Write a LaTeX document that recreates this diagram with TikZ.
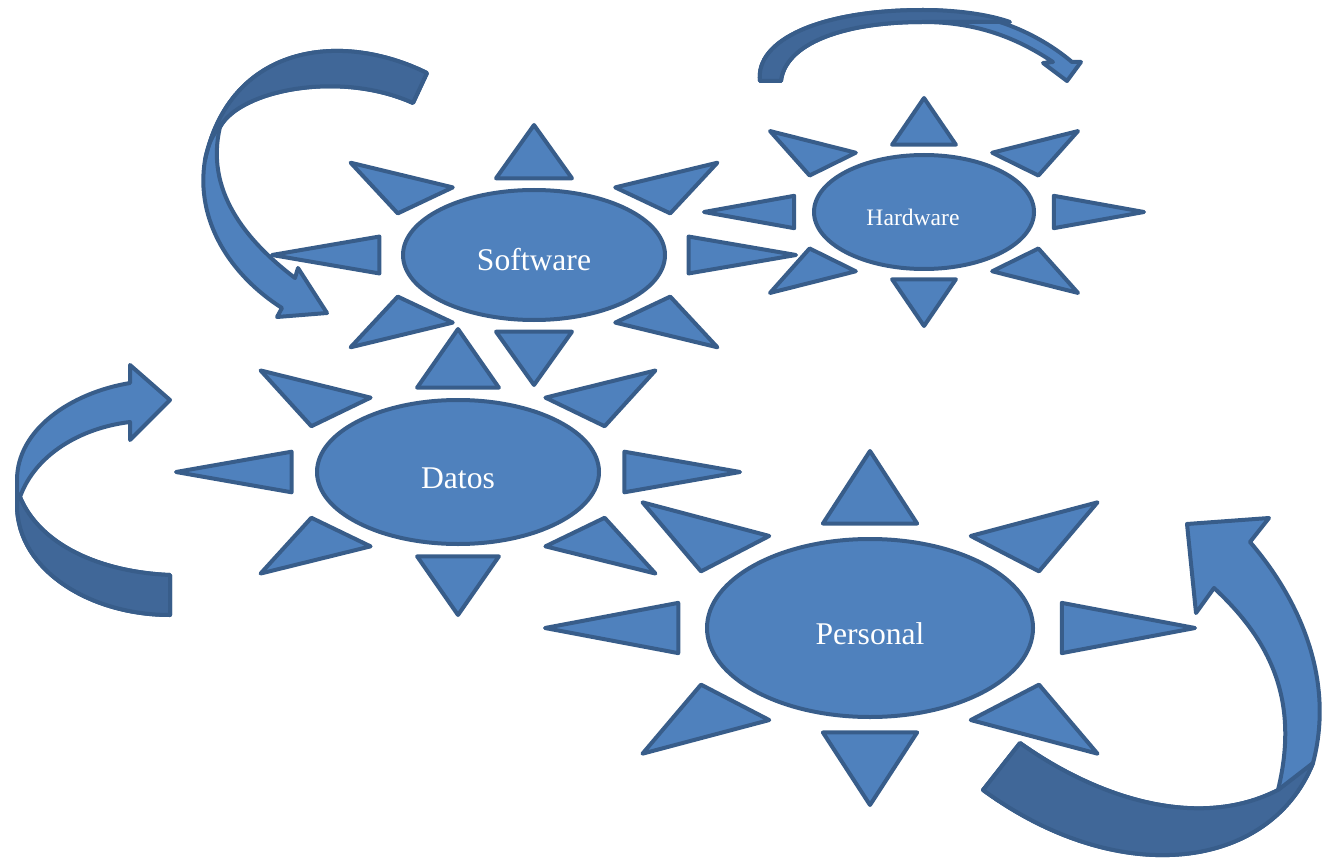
\documentclass[tikz,border=0pt]{standalone}
\usepackage{fontspec}
\setmainfont{Liberation Serif}
\usetikzlibrary{shapes.geometric}
\definecolor{sunfill}{RGB}{79,129,189}
\definecolor{sunline}{RGB}{56,93,138}
\definecolor{backfill}{RGB}{64,103,152}
\tikzset{
  sunray/.style={draw=sunline, fill=sunfill, line width=2pt, line join=round},
  sunbody/.style={ellipse, draw=sunline, fill=sunfill, line width=2pt, inner sep=0pt},
  suntext/.style={text=white, inner sep=0pt, font=\fontsize{15.8}{18}\selectfont},
  band/.style={draw=sunline, fill=sunfill, line width=2pt, line join=round},
  backband/.style={draw=sunline, fill=backfill, line width=2pt, line join=round},
}
\newcommand{\sunrays}[4]{%
  \begin{scope}[shift={(#1,#2)}, xscale=#3, yscale=#4]
    \draw[sunray] (0,-1) -- (-0.145,-0.59) -- (0.145,-0.59) -- cycle;
    \draw[sunray] (0,1) -- (-0.145,0.59) -- (0.145,0.59) -- cycle;
    \draw[sunray] (-1,0) -- (-0.59,-0.142) -- (-0.59,0.142) -- cycle;
    \draw[sunray] (1,0) -- (0.59,-0.142) -- (0.59,0.142) -- cycle;
    \draw[sunray] (-0.70,-0.71) -- (-0.31,-0.52) -- (-0.52,-0.32) -- cycle;
    \draw[sunray] (0.70,-0.71) -- (0.31,-0.52) -- (0.52,-0.32) -- cycle;
    \draw[sunray] (-0.70,0.71) -- (-0.31,0.52) -- (-0.52,0.32) -- cycle;
    \draw[sunray] (0.70,0.71) -- (0.31,0.52) -- (0.52,0.32) -- cycle;
  \end{scope}}
\begin{document}
\begin{tikzpicture}[x=0.5pt, y=-0.5pt]
\useasboundingbox (0,0) rectangle (1322,861);

% Software sun
\sunrays{534}{255}{262}{130}
\node[sunbody, minimum width=131pt, minimum height=65pt] (software) at (534,255) {};
\node[suntext] (softwarelabel) at (534,260) {Software};

% Hardware sun
\sunrays{924}{212}{220}{114}
\node[sunbody, minimum width=110pt, minimum height=57pt] (hardware) at (924,212) {};
\node[suntext, font=\fontsize{11.8}{14}\selectfont] (hardwarelabel) at (913,217) {Hardware};

% Datos sun
\sunrays{458}{472}{282}{143}
\node[sunbody, minimum width=141pt, minimum height=72pt] (datos) at (458,472) {};
\node[suntext] (datoslabel) at (458,478) {Datos};

% Personal sun
\sunrays{870}{628}{325}{177}
\node[sunbody, minimum width=163pt, minimum height=89pt] (personal) at (870,628) {};
\node[suntext] (personallabel) at (870,634) {Personal};

% Arrow A (top left)
\draw[band] (427,73) .. controls (340,30) and (230,45) .. (205,160)
  .. controls (195,220) and (230,275) .. (282,308)
  -- (277,317) -- (327,313) -- (298,268) -- (295,278)
  .. controls (245,240) and (205,190) .. (220,127)
  .. controls (240,90) and (340,70) .. (413,103) -- cycle;
\draw[backband] (427,73) .. controls (340,30) and (230,45) .. (205,160)
  .. controls (208,145) and (212,135) .. (220,127)
  .. controls (240,90) and (340,70) .. (413,103) -- cycle;

% Arrow B (top, Hardware)
\draw[band] (760,81) .. controls (755,40) and (820,10) .. (923,10)
  .. controls (990,10) and (1040,35) .. (1072,62)
  -- (1081,62) -- (1067,81) -- (1043,63) -- (1053,62)
  .. controls (1020,40) and (980,22) .. (923,22)
  .. controls (840,22) and (785,45) .. (781,81) -- cycle;
\draw[backband] (760,81) .. controls (755,40) and (820,10) .. (923,10)
  .. controls (960,10) and (990,15) .. (1010,22)
  .. controls (980,22) and (950,22) .. (923,22)
  .. controls (840,22) and (785,45) .. (781,81) -- cycle;

% Arrow C (left, Datos)
\draw[band] (130,383) -- (130,365) -- (170,400) -- (130,440) -- (130,422)
  .. controls (80,428) and (35,455) .. (20,497)
  .. controls (40,545) and (100,572) .. (170,575)
  -- (170,615)
  .. controls (90,615) and (17,570) .. (17,505)
  -- (17,480)
  .. controls (17,430) and (70,393) .. (130,383) -- cycle;
\draw[backband] (20,497) .. controls (40,545) and (100,572) .. (170,575)
  -- (170,615)
  .. controls (90,615) and (17,570) .. (17,505)
  -- (17,497) -- cycle;

% Arrow D (bottom right, Personal)
\draw[band] (983,790) -- (1020,743)
  .. controls (1100,800) and (1200,830) .. (1278,790)
  .. controls (1300,700) and (1270,640) .. (1214,588)
  -- (1196,613) -- (1187,524) -- (1269,518) -- (1250,542)
  .. controls (1300,600) and (1335,680) .. (1313,763)
  .. controls (1270,870) and (1120,890) .. (983,790) -- cycle;
\draw[backband] (983,790) -- (1020,743)
  .. controls (1100,800) and (1200,830) .. (1278,790)
  -- (1313,763)
  .. controls (1270,870) and (1120,890) .. (983,790) -- cycle;
\end{tikzpicture}
\end{document}
